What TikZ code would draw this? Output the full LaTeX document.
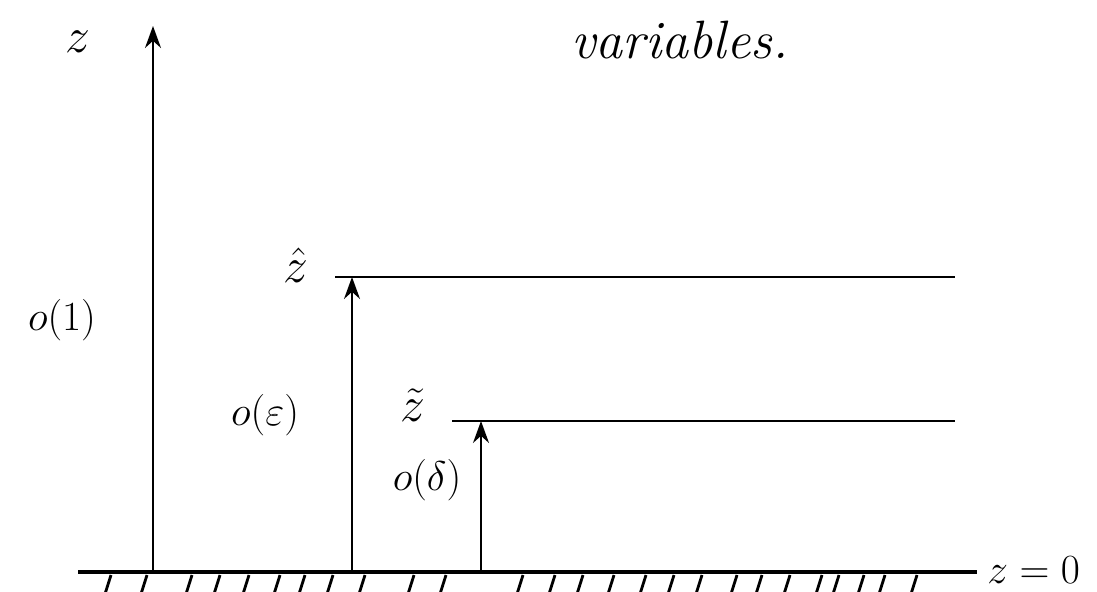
\documentclass[tikz,border=0pt]{standalone}
\usetikzlibrary{arrows.meta}
\begin{document}
\begin{tikzpicture}[x=0.5pt,y=-0.5pt,
  axis/.style={line width=0.9pt},
  level/.style={line width=0.9pt},
  upar/.style={line width=0.9pt,-{Stealth[length=11pt,width=8pt]}},
  ground/.style={line width=2.2pt},
  hatch/.style={line width=1.4pt},
  lab/.style={inner sep=1pt,font=\fontsize{22}{24}\selectfont},
  big/.style={inner sep=1pt,font=\fontsize{26}{28}\selectfont}]
\useasboundingbox (0,0) rectangle (1097,591);
% ground
\coordinate (g0) at (78,572);
\coordinate (g1) at (977,572);
\draw[ground] (g0) -- (g1);
\node[lab,anchor=west] (zz) at (985,570) {$z=0$};
\foreach \x in {105,141,186,214,243,274,299,327,359,408,440,517,549,577,608,640,668,696,731,756,784,816,833,858,879,911}
  \draw[hatch] (\x,594) -- (\x+6,575);
% main axis
\coordinate (a0) at (153,572);
\coordinate (a1) at (153,26);
\draw[upar] (a0) -- (a1);
\node[big] (zl) at (78,42) {$z$};
\node[lab,font=\fontsize{27}{29}\itshape] (var) at (680,40) {variables.};
% hat level
\coordinate (h0) at (335,277);
\coordinate (h1) at (955,277);
\draw[level] (h0) -- (h1);
\coordinate (ha) at (352,572);
\coordinate (hb) at (352,277);
\draw[upar] (ha) -- (hb);
\node[big] (hz) at (296,265) {$\hat{z}$};
% tilde level
\coordinate (t0) at (452,421);
\coordinate (t1) at (955,421);
\draw[level] (t0) -- (t1);
\coordinate (ta) at (481,572);
\coordinate (tb) at (481,421);
\draw[upar] (ta) -- (tb);
\node[big] (tz) at (413,405) {$\tilde{z}$};
% orders
\node[lab] (o1) at (62,320) {$o(1)$};
\node[lab] (oe) at (265,415) {$o(\varepsilon)$};
\node[lab] (od) at (427,480) {$o(\delta)$};
\end{tikzpicture}
\end{document}
